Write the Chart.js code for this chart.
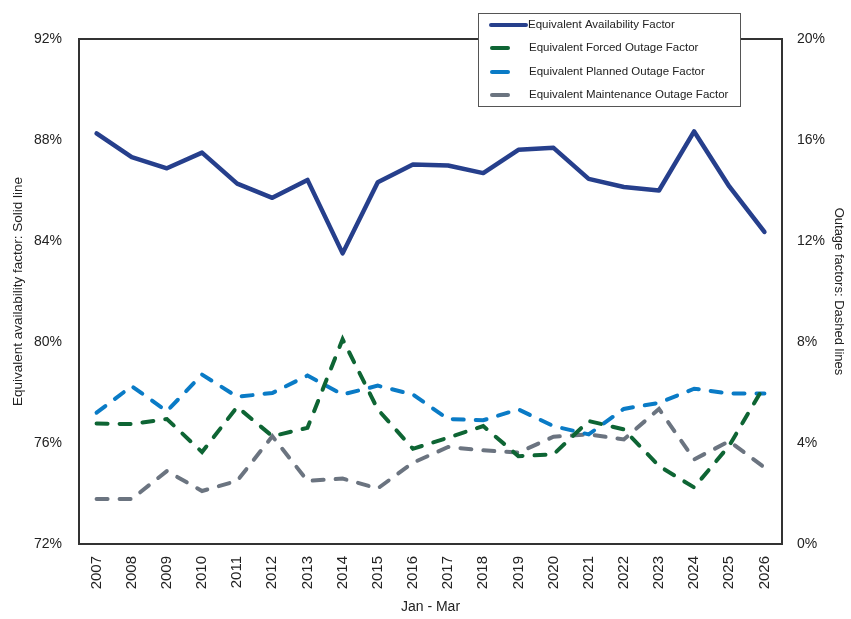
<!DOCTYPE html>
<html>
<head>
<meta charset="utf-8">
<script src="https://cdn.jsdelivr.net/npm/chart.js@4/dist/chart.umd.min.js"></script>
<style>
html,body{margin:0;padding:0;background:#fff;}
#wrap{width:851px;height:619px;}
</style>
</head>
<body>
<div id="wrap"><canvas id="c" width="851" height="619"></canvas></div>
<script>
const years = ["2007","2008","2009","2010","2011","2012","2013","2014","2015","2016","2017","2018","2019","2020","2021","2022","2023","2024","2025","2026"];
const eaf = [88.26,87.32,86.88,87.50,86.27,85.71,86.42,83.51,86.33,87.03,86.99,86.69,87.61,87.69,86.46,86.14,86.00,88.34,86.16,84.36];
const efof = [4.77,4.75,4.95,3.64,5.43,4.27,4.60,8.11,5.33,3.77,4.21,4.67,3.48,3.55,4.87,4.54,3.09,2.24,3.90,6.27];
const epof = [5.20,6.25,5.26,6.71,5.83,5.98,6.67,5.92,6.27,5.92,4.95,4.90,5.33,4.67,4.34,5.35,5.59,6.15,5.96,5.96];
const emof = [1.78,1.78,2.89,2.10,2.50,4.27,2.50,2.59,2.20,3.22,3.84,3.71,3.62,4.25,4.34,4.14,5.35,3.35,4.07,3.03];
const leftTicks = [72,76,80,84,88,92];
const rightTicks = [0,4,8,12,16,20];

const FONT = '"Liberation Sans",Arial,sans-serif';
const C_EAF = '#263f8c', C_F = '#0e6534', C_P = '#0a7bc6', C_M = '#6b7480';

const framePlugin = {
  id: 'frame',
  beforeDatasetsDraw(chart) {
    const a = chart.chartArea, ctx = chart.ctx;
    ctx.save();
    ctx.strokeStyle = '#333';
    ctx.lineWidth = 2;
    ctx.strokeRect(a.left, a.top, a.right - a.left, a.bottom - a.top);
    ctx.restore();
  }
};

const legendPlugin = {
  id: 'boxLegend',
  afterDraw(chart) {
    const ctx = chart.ctx;
    const x0 = 478, y0 = 13, w = 262, h = 93;
    ctx.save();
    ctx.fillStyle = '#fff';
    ctx.fillRect(x0, y0, w, h);
    ctx.strokeStyle = '#555';
    ctx.lineWidth = 1;
    ctx.strokeRect(x0 + 0.5, y0 + 0.5, w, h);
    const rows = [25, 48, 72, 95];
    ctx.font = '11.5px ' + FONT;
    ctx.textBaseline = 'middle';
    chart.data.datasets.forEach((ds, i) => {
      const y = rows[i];
      ctx.strokeStyle = ds.borderColor;
      ctx.lineWidth = 4;
      ctx.lineCap = 'round';
      ctx.beginPath();
      if (i === 0) { ctx.moveTo(491, y); ctx.lineTo(526, y); }
      else { ctx.moveTo(492, y); ctx.lineTo(508, y); }
      ctx.stroke();
      ctx.fillStyle = '#222';
      ctx.fillText(ds.label, i === 0 ? 528 : 529, y);
    });
    ctx.restore();
  }
};

new Chart(document.getElementById('c'), {
  type: 'line',
  data: {
    labels: years,
    datasets: [
      { label: 'Equivalent Availability Factor', data: eaf, yAxisID: 'y', borderColor: C_EAF, backgroundColor: C_EAF, borderWidth: 4.5, pointRadius: 0, tension: 0, borderCapStyle: 'round', borderJoinStyle: 'round' },
      { label: 'Equivalent Forced Outage Factor', data: efof, yAxisID: 'y1', borderColor: C_F, backgroundColor: C_F, borderWidth: 4, borderDash: [11, 12], borderCapStyle: 'round', pointRadius: 0, tension: 0 },
      { label: 'Equivalent Planned Outage Factor', data: epof, yAxisID: 'y1', borderColor: C_P, backgroundColor: C_P, borderWidth: 4, borderDash: [11, 12], borderCapStyle: 'round', pointRadius: 0, tension: 0 },
      { label: 'Equivalent Maintenance Outage Factor', data: emof, yAxisID: 'y1', borderColor: C_M, backgroundColor: C_M, borderWidth: 4, borderDash: [11, 12], borderCapStyle: 'round', pointRadius: 0, tension: 0 }
    ]
  },
  options: {
    responsive: false,
    animation: false,
    layout: { padding: { top: 39, left: 0, right: 0, bottom: 0 } },
    plugins: { legend: { display: false }, tooltip: { enabled: false } },
    scales: {
      x: {
        type: 'category',
        offset: true,
        grid: { display: false },
        border: { display: false },
        ticks: { minRotation: 90, maxRotation: 90, autoSkip: false, padding: 4, color: '#222', font: { family: FONT, size: 15 } },
        title: { display: true, text: 'Jan - Mar', color: '#222', font: { family: FONT, size: 14 }, padding: { top: 0, bottom: 3 } },
        afterFit(s) { s.height = 75; }
      },
      y: {
        position: 'left',
        min: 72, max: 92,
        afterBuildTicks(s) { s.ticks = leftTicks.map(v => ({ value: v })); },
        grid: { display: false },
        border: { display: false },
        ticks: { padding: 9, color: '#222', font: { family: FONT, size: 14 }, callback: v => v + '%' },
        title: { display: true, text: 'Equivalent availability factor: Solid line', color: '#222', font: { family: FONT, size: 13.5 }, padding: { top: 10, bottom: 0 } },
        afterFit(s) { s.width = 79; }
      },
      y1: {
        position: 'right',
        min: 0, max: 20,
        afterBuildTicks(s) { s.ticks = rightTicks.map(v => ({ value: v })); },
        grid: { display: false },
        border: { display: false },
        ticks: { padding: 7, color: '#222', font: { family: FONT, size: 14 }, callback: v => v + '%' },
        title: { display: true, text: 'Outage factors: Dashed lines', color: '#222', font: { family: FONT, size: 13 }, padding: { top: 5, bottom: 0 } },
        afterFit(s) { s.width = 69; }
      }
    }
  },
  plugins: [framePlugin, legendPlugin]
});
</script>
</body>
</html>
